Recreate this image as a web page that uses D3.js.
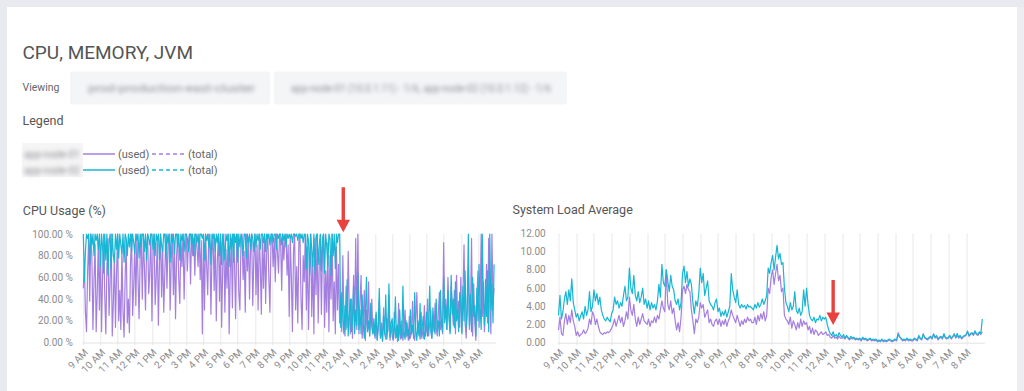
<!DOCTYPE html>
<html>
<head>
<meta charset="utf-8">
<script src="https://cdn.jsdelivr.net/npm/d3@7"></script>
<style>
  body { margin: 0; background: #e9eaf0; }
  svg text { font-family: Roboto, "Noto Sans", sans-serif; }
</style>
</head>
<body>
<svg id="page" width="1024" height="391"></svg>
<script>

//============================================================
// Data (one row = one hour)
//------------------------------------------------------------

var seriesStart = new Date(2019, 4, 14, 9, 0, 0);
var domainEnd = new Date(2019, 4, 15, 8, 57, 0);
var cpuStepSeconds = 225;   // 16 samples an hour
var loadStepSeconds = 300;  // 12 samples an hour

var nodeNames = ['app-node-01', 'app-node-02'];
var nodeColors = ['#a57fe0', '#17b6d4'];

var cpuTicks = [0, 20, 40, 60, 80, 100];
var loadTicks = [0, 2, 4, 6, 8, 10, 12];

var cpuNodeA = [
  50, 72, 28, 10, 64, 96, 38, 100, 80, 12, 58, 90, 10, 46, 94, 30,
  88, 10, 62, 100, 44, 8, 70, 96, 25, 55, 100, 6, 36, 82, 14, 64,
  100, 20, 48, 12, 86, 30, 5, 60, 94, 18, 40, 9, 72, 100, 25, 52,
  90, 34, 100, 60, 22, 78, 100, 40, 96, 70, 30, 88, 100, 45, 66, 100,
  20, 84, 100, 35, 60, 96, 16, 72, 100, 42, 88, 28, 64, 100, 50, 92,
  100, 30, 76, 100, 44, 92, 22, 80, 100, 58, 36, 96, 70, 100, 40, 84,
  100, 66, 92, 100, 54, 100, 80, 96, 62, 100, 88, 70, 100, 58, 94, 8,
  96, 30, 100, 72, 44, 100, 90, 26, 84, 100, 48, 96, 20, 76, 100, 38,
  92, 14, 70, 100, 28, 86, 50, 100, 8, 64, 96, 32, 100, 74, 22, 90,
  100, 46, 30, 92, 100, 58, 84, 28, 100, 66, 96, 40, 88, 100, 34, 78,
  100, 44, 90, 30, 100, 72, 26, 96, 50, 100, 36, 84, 100, 60, 28, 92,
  100, 70, 96, 56, 100, 84, 64, 100, 92, 48, 100, 76, 96, 100, 62, 90,
  24, 96, 60, 10, 84, 100, 30, 70, 18, 92, 100, 40, 12, 80, 56, 100,
  30, 88, 12, 64, 100, 24, 76, 8, 96, 44, 100, 18, 70, 90, 26, 84,
  100, 14, 66, 28, 92, 10, 80, 40, 100, 20, 56, 8, 88, 30, 72, 18,
  36, 10, 80, 20, 6, 52, 14, 84, 30, 8, 40, 4, 62, 16, 96, 12,
  100, 8, 36, 62, 4, 20, 48, 2, 30, 12, 56, 6, 22, 40, 8, 14,
  4, 26, 2, 12, 40, 6, 18, 1, 32, 8, 3, 22, 10, 44, 2, 16,
  6, 2, 28, 4, 14, 1, 36, 8, 3, 20, 2, 12, 30, 5, 18, 2,
  24, 4, 10, 38, 6, 2, 20, 46, 8, 14, 3, 28, 10, 4, 34, 6,
  12, 40, 6, 18, 30, 4, 22, 10, 36, 14, 6, 26, 46, 12, 20, 8,
  92, 22, 40, 12, 60, 28, 10, 52, 34, 16, 48, 8, 62, 24, 38, 14,
  60, 10, 44, 90, 18, 4, 36, 70, 12, 28, 96, 6, 54, 20, 2, 42,
  66, 14, 40, 100, 24, 56, 10, 30, 72, 18, 96, 44, 8, 100, 36, 50
];

var cpuNodeB = [
  100, 56, 84, 100, 96, 100, 72, 100, 90, 100, 80, 100, 94, 100, 86, 100,
  70, 100, 88, 64, 100, 76, 100, 62, 92, 100, 68, 100, 80, 74, 100, 86,
  100, 78, 100, 90, 82, 100, 74, 100, 96, 80, 100, 88, 100, 84, 100, 92,
  82, 100, 94, 100, 78, 100, 88, 100, 100, 84, 100, 76, 100, 96, 90, 100,
  100, 86, 100, 80, 100, 94, 100, 76, 100, 90, 84, 100, 100, 78, 100, 92,
  100, 74, 100, 92, 100, 82, 100, 100, 88, 100, 76, 100, 94, 100, 84, 100,
  100, 96, 84, 100, 100, 90, 100, 80, 100, 100, 92, 100, 86, 100, 100, 96,
  100, 76, 100, 94, 100, 88, 100, 72, 100, 96, 100, 84, 100, 92, 100, 80,
  100, 72, 100, 90, 76, 100, 94, 100, 70, 100, 86, 100, 74, 100, 92, 100,
  74, 100, 88, 100, 96, 80, 100, 100, 78, 100, 92, 100, 86, 100, 96, 84,
  100, 88, 100, 94, 100, 86, 100, 100, 92, 100, 84, 100, 96, 100, 90, 100,
  100, 92, 100, 100, 86, 100, 96, 100, 100, 90, 100, 94, 100, 88, 100, 96,
  100, 96, 100, 92, 100, 100, 98, 100, 94, 100, 100, 96, 100, 92, 100, 98,
  68, 100, 94, 62, 100, 86, 70, 100, 64, 98, 100, 72, 90, 100, 66, 96,
  100, 64, 100, 88, 70, 100, 96, 62, 100, 80, 100, 68, 100, 92, 100, 100,
  14, 46, 22, 8, 34, 12, 58, 6, 26, 40, 10, 20, 52, 8, 30, 16,
  64, 12, 30, 8, 44, 18, 4, 26, 60, 10, 20, 6, 36, 14, 8, 22,
  6, 28, 3, 16, 50, 4, 12, 2, 24, 8, 44, 3, 14, 54, 5, 18,
  22, 3, 12, 42, 5, 16, 2, 30, 8, 4, 52, 10, 3, 20, 6, 12,
  3, 30, 8, 16, 4, 46, 10, 2, 20, 6, 36, 4, 14, 24, 3, 10,
  28, 6, 18, 52, 10, 4, 32, 14, 8, 40, 12, 20, 6, 48, 16, 10,
  60, 18, 34, 12, 48, 22, 8, 62, 26, 40, 14, 56, 20, 30, 10, 46,
  36, 8, 52, 20, 66, 14, 28, 100, 16, 44, 10, 60, 24, 34, 6, 50,
  20, 72, 30, 12, 100, 40, 16, 58, 24, 66, 10, 100, 30, 54, 18, 72
];

var loadNodeA = [
  1.4, 2.8, 1.0, 0.8, 2.4, 3.2, 2.0, 3.0, 2.2, 3.6, 2.4, 1.8,
  0.8, 1.2, 0.7, 0.9, 1.0, 1.4, 1.0, 1.2, 1.6, 2.6, 2.0, 3.4,
  3.0, 2.0, 2.6, 1.8, 1.2, 1.0, 0.9, 1.1, 1.0, 1.2, 1.1, 1.3,
  1.6, 2.0, 2.6, 1.8, 2.4, 3.0, 2.2, 2.8, 1.8, 2.4, 3.4, 2.6,
  5.0, 3.6, 3.0, 4.2, 2.6, 1.8, 2.8, 2.0, 2.6, 3.2, 2.4, 2.2,
  2.0, 2.6, 1.8, 2.4, 2.2, 2.8, 2.2, 3.0, 2.6, 3.6, 4.6, 3.8,
  3.4, 8.0, 4.2, 3.6, 4.6, 3.2, 3.8, 2.4, 1.4, 2.2, 1.2, 2.8,
  5.8, 6.2, 5.4, 6.4, 5.8, 5.6, 3.6, 2.4, 1.0, 2.6, 2.2, 2.8,
  4.4, 3.8, 4.2, 2.8, 3.2, 3.6, 2.2, 2.6, 2.0, 1.8, 2.4, 2.6,
  2.0, 2.6, 1.8, 2.4, 2.0, 2.6, 1.8, 2.4, 2.8, 3.6, 3.0, 2.6,
  2.2, 3.0, 2.4, 1.8, 2.4, 2.0, 2.6, 2.2, 2.8, 2.4, 2.6, 2.2,
  2.2, 2.8, 2.0, 3.0, 2.4, 3.2, 2.6, 3.4, 2.4, 3.0, 6.0, 5.4,
  7.2, 8.0, 6.4, 7.6, 8.6, 6.8, 7.4, 5.6, 6.0, 3.0, 2.6, 2.4,
  2.0, 2.8, 1.6, 2.4, 2.0, 1.4, 2.2, 1.6, 2.6, 1.8, 2.4, 2.0,
  2.2, 1.4, 1.8, 1.0, 1.6, 0.9, 1.4, 1.2, 0.8, 1.0, 1.2, 0.9,
  1.0, 1.2, 0.8, 0.9, 0.6, 0.5, 0.8, 0.5, 0.6, 0.4, 0.7, 0.5,
  0.5, 0.6, 0.4, 0.7, 0.5, 0.3, 0.5, 0.4, 0.5, 0.3, 0.4, 0.3,
  0.4, 0.2, 0.5, 0.3, 0.4, 0.2, 0.3, 0.4, 0.2, 0.3, 0.2, 0.3,
  0.1, 0.2, 0.1, 0.3, 0.1, 0.2, 0.1, 0.2, 0.3, 0.2, 0.1, 0.2,
  0.3, 0.2, 1.1, 0.7, 0.4, 0.2, 0.3, 0.2, 0.4, 0.2, 0.3, 0.2,
  0.2, 0.4, 0.3, 0.2, 0.7, 0.4, 0.3, 1.0, 0.5, 0.4, 0.3, 0.5,
  0.6, 0.4, 1.0, 0.5, 0.7, 0.3, 0.5, 0.6, 0.4, 0.9, 0.5, 0.4,
  0.5, 0.7, 0.4, 0.6, 1.0, 0.5, 0.8, 0.5, 0.7, 0.4, 0.6, 0.7,
  0.8, 1.3, 0.7, 0.9, 1.0, 0.8, 1.2, 0.9, 0.8, 1.1, 0.9, 1.2
];

var loadNodeB = [
  3.0, 5.2, 2.6, 3.4, 4.8, 5.6, 4.2, 5.8, 4.6, 7.0, 4.4, 3.6,
  2.8, 3.2, 2.4, 2.9, 3.4, 2.6, 4.0, 3.0, 3.6, 5.6, 3.4, 4.0,
  5.8, 4.6, 5.4, 4.2, 5.0, 3.6, 3.0, 2.6, 2.4, 2.8, 2.5, 2.3,
  3.2, 3.6, 5.0, 4.2, 4.6, 3.8, 4.4, 4.0, 5.2, 6.2, 4.6, 5.0,
  8.2, 6.0, 5.4, 7.4, 5.2, 4.6, 5.6, 4.4, 5.0, 6.0, 4.2, 4.8,
  3.8, 4.6, 3.6, 4.4, 3.8, 4.2, 3.6, 4.6, 6.4, 5.0, 8.6, 6.6,
  6.2, 8.0, 6.8, 5.6, 7.4, 6.2, 5.8, 4.6, 4.2, 4.8, 3.6, 4.4,
  7.6, 8.4, 6.6, 7.8, 6.2, 7.0, 6.4, 4.4, 3.2, 4.6, 4.0, 5.4,
  8.2, 6.6, 7.6, 5.2, 6.0, 6.8, 4.6, 4.2, 4.0, 3.6, 4.4, 4.8,
  3.4, 3.8, 2.9, 3.4, 3.0, 3.6, 2.8, 3.4, 4.0, 7.6, 5.8, 5.0,
  4.4, 5.8, 4.2, 3.8, 4.2, 3.9, 4.1, 3.7, 4.2, 3.9, 4.0, 3.8,
  3.6, 4.2, 3.8, 4.4, 3.9, 4.2, 4.8, 4.2, 4.6, 5.2, 8.2, 7.6,
  8.8, 9.6, 8.0, 9.4, 10.7, 9.2, 9.8, 8.6, 8.8, 6.0, 4.4, 4.0,
  3.4, 4.4, 3.6, 4.0, 5.6, 3.6, 3.2, 3.8, 3.0, 3.4, 5.8, 4.0,
  6.0, 4.2, 3.0, 2.6, 2.4, 2.8, 2.2, 2.6, 2.5, 3.0, 2.4, 2.8,
  2.6, 2.8, 2.0, 1.4, 1.0, 0.8, 1.2, 0.7, 0.9, 0.6, 1.1, 0.8,
  0.6, 0.9, 0.5, 0.8, 0.6, 0.4, 0.7, 0.5, 0.6, 0.4, 0.5, 0.4,
  0.5, 0.3, 0.6, 0.4, 0.5, 0.3, 0.4, 0.5, 0.3, 0.4, 0.3, 0.4,
  0.2, 0.3, 0.2, 0.4, 0.2, 0.3, 0.2, 0.3, 0.4, 0.3, 0.2, 0.3,
  0.4, 0.3, 0.9, 0.6, 0.5, 0.3, 0.4, 0.3, 0.5, 0.3, 0.4, 0.3,
  0.3, 0.5, 0.4, 0.3, 0.8, 0.5, 0.4, 0.9, 0.6, 0.5, 0.4, 0.6,
  0.7, 0.5, 0.9, 0.6, 0.8, 0.4, 0.6, 0.7, 0.5, 1.0, 0.6, 0.5,
  0.6, 0.8, 0.5, 0.7, 0.9, 0.6, 1.0, 0.6, 0.8, 0.5, 0.7, 0.8,
  0.9, 1.2, 0.8, 1.0, 1.1, 0.9, 1.3, 1.0, 0.9, 1.2, 1.0, 2.6
];

// red call-out arrows: [hour, minute, value the tip points at]
var cpuArrow = [0, 9, 101.5];
var loadArrow = [0, 30, 1.95];

//============================================================


function toPoints(values, step) {
  return values.map(function (v, i) {
    return {t: d3.timeSecond.offset(seriesStart, i * step), v: v};
  });
}

function arrowTime(a) {
  var d = new Date(seriesStart);
  d.setDate(d.getDate() + 1);
  d.setHours(a[0], a[1], 0, 0);
  return d;
}


//============================================================
// Reusable time line chart
//------------------------------------------------------------

function timeLineChart() {

  var margin = {top: 0, left: 0}
    , width = 400
    , height = 108
    , yMax = 100
    , yTicks = []
    , yFormat = function (d) { return d3.format('.2f')(d); }
    , labelGap = 10
    , title = ''
    , titleX = -60
    , arrow = null
    ;

  function chart(selection) {
    selection.each(function (data) {
      var wrap = d3.select(this).append('g')
          .attr('transform', 'translate(' + margin.left + ',' + margin.top + ')');

      var x = d3.scaleTime().domain([seriesStart, domainEnd]).range([0, width]);
      var y = d3.scaleLinear().domain([0, yMax]).range([height, 0]);
      var hours = x.ticks(d3.timeHour.every(1));

      wrap.append('text')
          .attr('x', titleX)
          .attr('y', -19)
          .attr('fill', '#555')
          .style('font-size', '12.5px')
          .text(title);

      // vertical hour grid
      wrap.append('g').selectAll('line').data(hours).join('line')
          .attr('x1', function (d) { return Math.round(x(d)) + 0.5; })
          .attr('x2', function (d) { return Math.round(x(d)) + 0.5; })
          .attr('y1', 0)
          .attr('y2', height + 3)
          .attr('stroke', '#e8e8e8');

      wrap.append('line')
          .attr('x1', -1).attr('x2', width + 2)
          .attr('y1', height + 0.5).attr('y2', height + 0.5)
          .attr('stroke', '#e2e2e2');

      // y labels
      wrap.append('g').selectAll('text').data(yTicks).join('text')
          .attr('x', -labelGap)
          .attr('y', function (d) { return y(d); })
          .attr('dy', '.35em')
          .attr('text-anchor', 'end')
          .attr('fill', '#8c8c8c')
          .style('font-size', '10px')
          .text(yFormat);

      // x labels, rotated
      wrap.append('g').selectAll('text').data(hours).join('text')
          .attr('transform', function (d) {
            return 'translate(' + (x(d) + 3) + ',' + (height + 8) + ') rotate(-45)';
          })
          .attr('text-anchor', 'end')
          .attr('dy', '.35em')
          .attr('fill', '#8c8c8c')
          .style('font-size', '10px')
          .text(d3.timeFormat('%-I %p'));

      var line = d3.line()
          .x(function (d) { return x(d.t); })
          .y(function (d) { return y(d.v); });

      wrap.append('g').selectAll('path').data(data).join('path')
          .attr('d', function (d) { return line(d.points); })
          .attr('fill', 'none')
          .attr('stroke', function (d) { return d.color; })
          .attr('stroke-width', 1.2)
          .attr('stroke-linejoin', 'round');

      if (arrow) {
        var ax = x(arrowTime(arrow)), ay = y(arrow[2]);
        wrap.append('path')
            .attr('d', 'M' + (ax - 1.7) + ',' + (ay - 45) + 'V' + (ay - 12.5) + 'H' + (ax - 6.7) +
                       'L' + ax + ',' + ay + 'L' + (ax + 6.7) + ',' + (ay - 12.5) + 'H' + (ax + 1.7) +
                       'V' + (ay - 45) + 'Z')
            .attr('fill', '#e8423f');
      }
    });

    return chart;
  }

  chart.margin = function (_) { if (!arguments.length) { return margin; } margin = _; return chart; };
  chart.width = function (_) { if (!arguments.length) { return width; } width = _; return chart; };
  chart.height = function (_) { if (!arguments.length) { return height; } height = _; return chart; };
  chart.yMax = function (_) { if (!arguments.length) { return yMax; } yMax = _; return chart; };
  chart.yTicks = function (_) { if (!arguments.length) { return yTicks; } yTicks = _; return chart; };
  chart.yFormat = function (_) { if (!arguments.length) { return yFormat; } yFormat = _; return chart; };
  chart.labelGap = function (_) { if (!arguments.length) { return labelGap; } labelGap = _; return chart; };
  chart.title = function (_) { if (!arguments.length) { return title; } title = _; return chart; };
  chart.titleX = function (_) { if (!arguments.length) { return titleX; } titleX = _; return chart; };
  chart.arrow = function (_) { if (!arguments.length) { return arrow; } arrow = _; return chart; };

  return chart;
}

//============================================================


var svg = d3.select('#page');
var spanHours = (domainEnd - seriesStart) / 3600000;

var defs = svg.append('defs');
defs.append('filter').attr('id', 'blurText').attr('x', '-10%').attr('y', '-60%').attr('width', '120%').attr('height', '220%')
    .append('feGaussianBlur').attr('stdDeviation', 2.3);

svg.append('rect').attr('width', 1024).attr('height', 391).attr('fill', '#e9eaf0');
svg.append('rect').attr('x', 1017).attr('y', 7).attr('width', 7).attr('height', 384).attr('fill', '#eeeef2');
svg.append('rect').attr('x', 7).attr('y', 7).attr('width', 1010).attr('height', 390).attr('fill', '#fff');

svg.append('text').attr('x', 22.5).attr('y', 58.5)
    .attr('fill', '#555').style('font-size', '19px')
    .text('CPU, MEMORY, JVM');

svg.append('text').attr('x', 22.5).attr('y', 91)
    .attr('fill', '#666').style('font-size', '10.5px')
    .text('Viewing');

// blurred selector boxes
var selectors = [
  {x: 70, w: 200, label: 'prod-production-east-cluster', tx: 88, tw: 167},
  {x: 274, w: 293, label: 'app-node-01 (10.0.1.11) - 1/6, app-node-02 (10.0.1.12) - 1/6', tx: 291, tw: 260}
];
var sel = svg.append('g').selectAll('g').data(selectors).join('g');
sel.append('rect')
    .attr('x', function (d) { return d.x; }).attr('y', 71.5)
    .attr('width', function (d) { return d.w; }).attr('height', 33)
    .attr('rx', 3).attr('fill', '#f4f5f7');
sel.append('text')
    .attr('x', function (d) { return d.tx; }).attr('y', 92)
    .attr('textLength', function (d) { return d.tw; })
    .attr('lengthAdjust', 'spacingAndGlyphs')
    .attr('fill', '#8e8e94').style('font-size', '11px')
    .attr('filter', 'url(#blurText)')
    .text(function (d) { return d.label; });

svg.append('text').attr('x', 22.5).attr('y', 125)
    .attr('fill', '#555').style('font-size', '12.5px')
    .text('Legend');

// legend
svg.append('rect').attr('x', 22).attr('y', 143).attr('width', 61).attr('height', 34).attr('fill', '#f5f5f6');
var legend = svg.append('g').selectAll('g').data(nodeNames).join('g')
    .attr('transform', function (d, i) { return 'translate(0,' + (154 + i * 16) + ')'; });
legend.append('text')
    .attr('x', 24).attr('y', 3.5)
    .attr('textLength', 56).attr('lengthAdjust', 'spacingAndGlyphs')
    .attr('fill', '#8e8e94').style('font-size', '10px')
    .attr('filter', 'url(#blurText)')
    .text(function (d) { return d; });
legend.append('line')
    .attr('x1', 83).attr('x2', 115).attr('y1', 0).attr('y2', 0)
    .attr('stroke', function (d, i) { return nodeColors[i]; }).attr('stroke-width', 1.5);
legend.append('text')
    .attr('x', 118).attr('y', 3.8)
    .attr('fill', '#666').style('font-size', '11px')
    .text('(used)');
legend.append('line')
    .attr('x1', 152).attr('x2', 185).attr('y1', 0).attr('y2', 0)
    .attr('stroke', function (d, i) { return nodeColors[i]; }).attr('stroke-width', 1.5)
    .attr('stroke-dasharray', '4,3');
legend.append('text')
    .attr('x', 188).attr('y', 3.8)
    .attr('fill', '#666').style('font-size', '11px')
    .text('(total)');

// charts
var cpuData = [
  {key: nodeNames[0], color: nodeColors[0], points: toPoints(cpuNodeA, cpuStepSeconds)},
  {key: nodeNames[1], color: nodeColors[1], points: toPoints(cpuNodeB, cpuStepSeconds)}
];
var loadData = [
  {key: nodeNames[0], color: nodeColors[0], points: toPoints(loadNodeA, loadStepSeconds)},
  {key: nodeNames[1], color: nodeColors[1], points: toPoints(loadNodeB, loadStepSeconds)}
];

var cpuChart = timeLineChart()
    .margin({top: 234, left: 83.3})
    .width(spanHours * 17.16)
    .height(108.5)
    .yMax(100)
    .yTicks(cpuTicks)
    .yFormat(function (d) { return d3.format('.2f')(d) + ' %'; })
    .labelGap(10.5)
    .title('CPU Usage (%)')
    .titleX(-60.5)
    .arrow(cpuArrow);

var loadChart = timeLineChart()
    .margin({top: 233.4, left: 558.5})
    .width(spanHours * 17.72)
    .height(109.3)
    .yMax(12)
    .yTicks(loadTicks)
    .labelGap(12.8)
    .title('System Load Average')
    .titleX(-46)
    .arrow(loadArrow);

svg.append('g').datum(cpuData).call(cpuChart);
svg.append('g').datum(loadData).call(loadChart);

</script>
</body>
</html>
